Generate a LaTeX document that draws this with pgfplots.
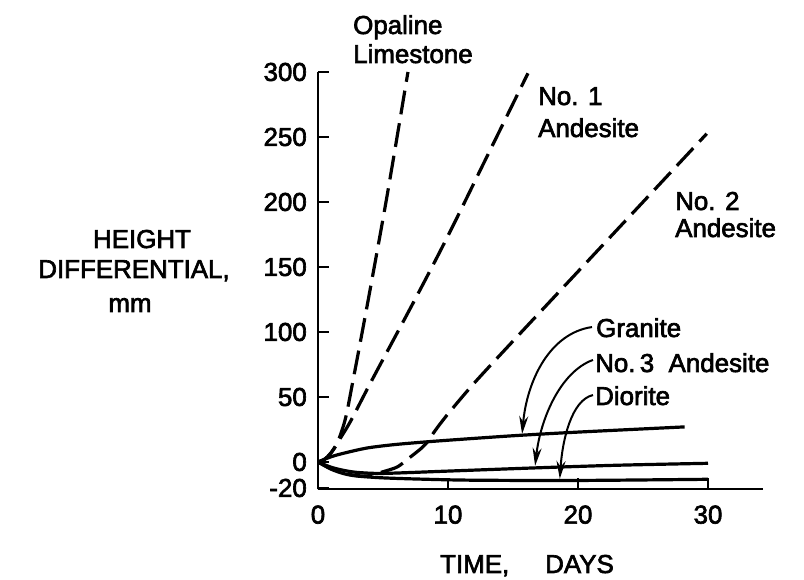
\documentclass[border=0pt]{standalone}
\usepackage{fontspec}
\setmainfont{Liberation Sans}[FakeBold=2.5]
\usepackage{pgfplots}
\pgfplotsset{compat=1.18}
\usetikzlibrary{arrows.meta}
\begin{document}
\begin{tikzpicture}[x=1bp,y=1bp]
\useasboundingbox (-318,-90.7) rectangle (486,489.3);
\begin{axis}[
 at={(0,0)}, anchor=south west,
 scale only axis, width=444.6bp, height=417.3bp,
 xmin=0, xmax=34.2, ymin=-21, ymax=300,
 axis x line=bottom, axis y line=left,
 axis line style={-, line width=2.4bp},
 xtick={0,10,20,30}, xticklabels={0,10,20,30},
 ytick={-20,0,50,100,150,200,250,300},
 yticklabels={-20,0,50,100,150,200,250,300},
 tick align=inside, major tick length=11bp,
 tick style={line width=2.4bp, black},
 ticklabel style={font=\fontsize{26}{30}\selectfont, inner sep=0pt},
 xticklabel style={anchor=north, yshift=-16bp},
 yticklabel style={anchor=east, xshift=-11bp},
 clip=false,
 every axis plot/.append style={line width=3.2bp, black},
]
% Opaline Limestone
\addplot[smooth, tension=0.5, dash pattern=on 24bp off 9bp] coordinates {(0,0) (0.5,2) (1,7) (1.5,15) (2.1,33) (2.7,63) (3.85,124) (5.3,204) (6.92,300)};
% No. 1 Andesite
\addplot[smooth, tension=0.5, dash pattern=on 24bp off 9bp] coordinates {(0,0) (0.5,2) (1,7) (1.7,18) (2.54,32) (4.15,63) (7.46,125) (10,174) (13,235) (16.15,299)};
% No. 2 Andesite
\addplot[smooth, tension=0.5, dash pattern=on 24bp off 9bp] coordinates {(0,0) (1,-5) (2,-8.5) (3,-10.5) (4,-10.5) (5,-7.5) (6.1,-3.8) (7,3) (8,11) (8.5,16.5) (9,24) (10,37) (12,60.5) (15,93) (20,146.5) (25,200) (29.9,252.5)};
% Granite
\addplot[smooth, tension=0.5] coordinates {(0,0) (1,4) (2,6.8) (3.8,10.8) (6,13.5) (9,16) (12.5,18.5) (15.5,20.5) (20,23) (28.2,27)};
% No. 3 Andesite
\addplot[smooth, tension=0.5] coordinates {(0,0) (1,-4) (2,-6.5) (3,-8) (4.5,-8.8) (6,-8.5) (10,-7) (16.8,-4.5) (23,-2.5) (30,-1)};
% Diorite
\addplot[smooth, tension=0.5] coordinates {(0,0) (1,-5.5) (2,-9) (3,-10.8) (5,-12.2) (8,-13.2) (12,-14) (20,-14.2) (30,-13.3)};
\addplot[line width=2.4bp] coordinates {(30,-13.3) (30,-21)};
% leader arrows
\draw[line width=2bp, -{Stealth[length=18bp,width=9bp]}] (axis cs:21.08,103.8) .. controls (axis cs:17.85,99.2) and (axis cs:16.08,63) .. (axis cs:15.7,21.5);
\draw[line width=2bp, -{Stealth[length=18bp,width=9bp]}] (axis cs:21.15,78.5) .. controls (axis cs:18.6,69.2) and (axis cs:17.1,32.3) .. (axis cs:16.7,-3);
\draw[line width=2bp, -{Stealth[length=18bp,width=9bp]}] (axis cs:21.15,51.5) .. controls (axis cs:19.5,47.7) and (axis cs:18.8,17) .. (axis cs:18.6,-13);
\end{axis}
\begin{scope}[every node/.style={font=\fontsize{26}{30}\selectfont, inner sep=0pt}]
\node[anchor=base west] at (35,455.3) {Opaline};
\node[anchor=base west] at (35,426.3) {Limestone};
\node[anchor=base west] at (220,384.3) {No. 1};
\node[anchor=base west] at (220,352.3) {Andesite};
\node[anchor=base west] at (357,279.3) {No. 2};
\node[anchor=base west] at (357,252.3) {Andesite};
\node[anchor=base west] at (278,152.3) {Granite};
\node[anchor=base west] at (277,117.3) {No.\,3\ \ Andesite};
\node[anchor=base west] at (277,84.3) {Diorite};
\node[anchor=base] at (-176,241.3) {HEIGHT};
\node[anchor=base] at (-184,211.3) {DIFFERENTIAL,};
\node[anchor=base] at (-188,177.3) {mm};
\node[anchor=base west] at (122,-83.7) {TIME,};
\node[anchor=base west] at (227,-83.7) {DAYS};
\end{scope}
\end{tikzpicture}
\end{document}
